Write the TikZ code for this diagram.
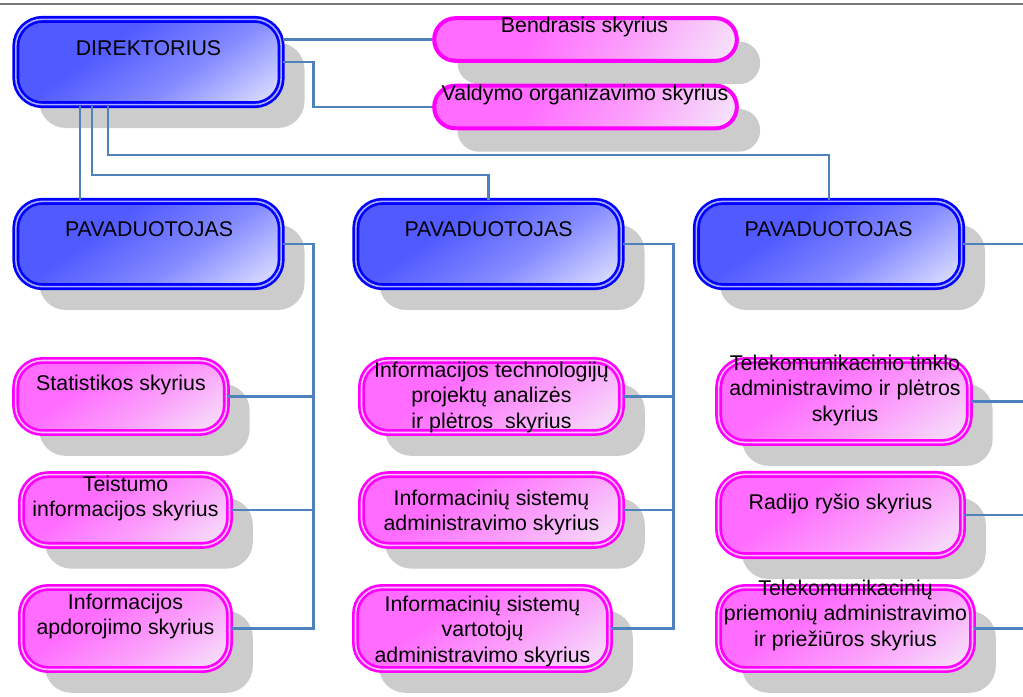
\documentclass[tikz,border=0pt]{standalone}
\usepackage{fontspec}
\setmainfont{Liberation Sans}
\usetikzlibrary{shadows}

\definecolor{lineblue}{RGB}{79,129,189}
\definecolor{shadowgray}{RGB}{204,204,204}
\definecolor{rulegray}{RGB}{120,120,120}
\definecolor{boxblue}{RGB}{0,0,255}
\definecolor{boxpink}{RGB}{255,0,255}
\definecolor{gapblue}{RGB}{170,170,255}
\definecolor{gappink}{RGB}{255,190,255}
\definecolor{blueA}{RGB}{80,90,255}
\definecolor{blueB}{RGB}{132,138,255}
\definecolor{blueC}{RGB}{228,230,255}
\definecolor{pinkA}{RGB}{255,108,255}
\definecolor{pinkB}{RGB}{251,160,251}
\definecolor{pinkC}{RGB}{245,232,250}

\pgfdeclarehorizontalshading{blueshade}{100bp}{color(0bp)=(blueA); color(38bp)=(blueA); color(60bp)=(blueB); color(84bp)=(blueC); color(100bp)=(blueC)}
\pgfdeclarehorizontalshading{pinkshade}{100bp}{color(0bp)=(pinkA); color(38bp)=(pinkA); color(60bp)=(pinkB); color(84bp)=(pinkC); color(100bp)=(pinkC)}

\tikzset{every picture/.style={line width=0.75pt},
    shadowed/.style={drop shadow={shadow xshift=17.5pt, shadow yshift=-17.5pt, fill=shadowgray, opacity=1}},
    bluebox/.style={shadowed, rectangle, rounded corners=20pt, shading=blueshade, shading angle=-55, draw=boxblue, line width=2pt, double=gapblue, double distance=1.2pt, inner sep=0pt},
    pinkbox/.style={shadowed, rectangle, rounded corners=20pt, shading=pinkshade, shading angle=-55, draw=boxpink, line width=2pt, double=gappink, double distance=1.2pt, inner sep=0pt},
    pillbox/.style={shadowed, rectangle, rounded corners=16pt, shading=pinkshade, shading angle=-30, draw=boxpink, line width=3pt, inner sep=0pt},
    lbl/.style={font=\fontsize{16}{19}\selectfont, align=center, inner sep=0pt, anchor=north},
    conn/.style={draw=lineblue, line width=2.2pt}
}

\begin{document}
\begin{tikzpicture}[x=0.75pt,y=0.75pt,yscale=-1,xscale=1]
        \useasboundingbox (0,0) rectangle (1023,696);

        %Rule at the top
        \draw [color=rulegray, line width=2pt] (0,4) -- (1023,4);

        %Director and deputies
        \node [bluebox, minimum width=199pt, minimum height=64pt] (dir) at (148.5,62) {};
        \node [bluebox, minimum width=199pt, minimum height=64pt] (pav1) at (148.5,244) {};
        \node [bluebox, minimum width=199pt, minimum height=64pt] (pav2) at (488.5,244) {};
        \node [bluebox, minimum width=199pt, minimum height=64pt] (pav3) at (829,244) {};

        %Top right departments
        \node [pillbox, minimum width=227pt, minimum height=32pt] (bendr) at (585.5,39.5) {};
        \node [pillbox, minimum width=227pt, minimum height=32pt] (valdymo) at (585.5,107) {};

        %Left column
        \node [pinkbox, minimum width=158pt, minimum height=54pt] (stat) at (121,396.5) {};
        \node [pinkbox, minimum width=156pt, minimum height=53pt] (teist) at (125.5,510) {};
        \node [pinkbox, minimum width=156pt, minimum height=61.5pt] (apdor) at (125.5,628.5) {};

        %Middle column
        \node [pinkbox, minimum width=195pt, minimum height=54pt] (itproj) at (491.5,396.5) {};
        \node [pinkbox, minimum width=195pt, minimum height=53pt] (isadm) at (491.5,510) {};
        \node [pinkbox, minimum width=190.5pt, minimum height=61.5pt] (isvart) at (482.5,628.5) {};

        %Right column
        \node [pinkbox, minimum width=188pt, minimum height=61.5pt] (telet) at (844,401.5) {};
        \node [pinkbox, minimum width=183pt, minimum height=61pt] (radijo) at (840.5,515) {};
        \node [pinkbox, minimum width=190.5pt, minimum height=61.5pt] (telep) at (845.5,628.5) {};

        %Connectors from the director
        \draw [conn] (dir.east |- bendr.west) -- (bendr.west);
        \draw [conn] (dir.east) -- ++(31,0) |- (valdymo.west);
        \draw [conn] ([xshift=-51.4pt]dir.south) -- ([xshift=-51.4pt]pav1.north);
        \draw [conn] ([xshift=-42.4pt]dir.south) -- ++(0,69) -| (pav2.north);
        \draw [conn] ([xshift=-30.4pt]dir.south) -- ++(0,49) -| (pav3.north);

        %Connectors from the deputies
        \coordinate (bus1) at ([xshift=23.3pt]pav1.east);
        \coordinate (bus2) at ([xshift=38.3pt]pav2.east);
        \coordinate (bus3) at ([xshift=47pt]pav3.east);
        \draw [conn] (pav1.east) -- (bus1) -- (bus1 |- apdor.east) -- (apdor.east);
        \draw [conn] (stat.east) -- (stat.east -| bus1);
        \draw [conn] (teist.east) -- (teist.east -| bus1);
        \draw [conn] (pav2.east) -- (bus2) -- (bus2 |- isvart.east) -- (isvart.east);
        \draw [conn] (itproj.east) -- (itproj.east -| bus2);
        \draw [conn] (isadm.east) -- (isadm.east -| bus2);
        \draw [conn] (pav3.east) -- (bus3) -- (bus3 |- telep.east) -- (telep.east);
        \draw [conn] (telet.east) -- (telet.east -| bus3);
        \draw [conn] (radijo.east) -- (radijo.east -| bus3);

        % Text Node
        \node [lbl] (dirtext) at (148.5,40.4) {DIREKTORIUS};
        % Text Node
        \node [lbl] (pav1text) at (149,221.4) {PAVADUOTOJAS};
        % Text Node
        \node [lbl] (pav2text) at (488.5,221.4) {PAVADUOTOJAS};
        % Text Node
        \node [lbl] (pav3text) at (828.5,221.4) {PAVADUOTOJAS};
        % Text Node
        \node [lbl] (bendrtext) at (584.5,16.4) {Bendrasis skyrius};
        % Text Node
        \node [lbl] (valdymotext) at (585,84.4) {Valdymo organizavimo skyrius};
        % Text Node
        \node [lbl] (stattext) at (121,374.4) {Statistikos skyrius};
        % Text Node
        \node [lbl] (teisttext) at (125.5,475.4) {Teistumo\\informacijos skyrius};
        % Text Node
        \node [lbl] (apdortext) at (125.5,593.4) {Informacijos\\apdorojimo skyrius};
        % Text Node
        \node [lbl] (itprojtext) at (491.5,361.4) {Informacijos technologijų\\projektų analizės\\ir plėtros\ \ skyrius};
        % Text Node
        \node [lbl] (isadmtext) at (491.5,489.4) {Informacinių sistemų\\administravimo skyrius};
        % Text Node
        \node [lbl] (isvarttext) at (482.5,595.4) {Informacinių sistemų\\vartotojų\\administravimo skyrius};
        % Text Node
        \node [lbl] (telettext) at (845,354.4) {Telekomunikacinio tinklo\\administravimo ir plėtros\\skyrius};
        % Text Node
        \node [lbl] (radijotext) at (840.5,493.4) {Radijo ryšio skyrius};
        % Text Node
        \node [lbl] (teleptext) at (845.5,579.4) {Telekomunikacinių\\priemonių administravimo\\ir priežiūros skyrius};

\end{tikzpicture}
\end{document}
